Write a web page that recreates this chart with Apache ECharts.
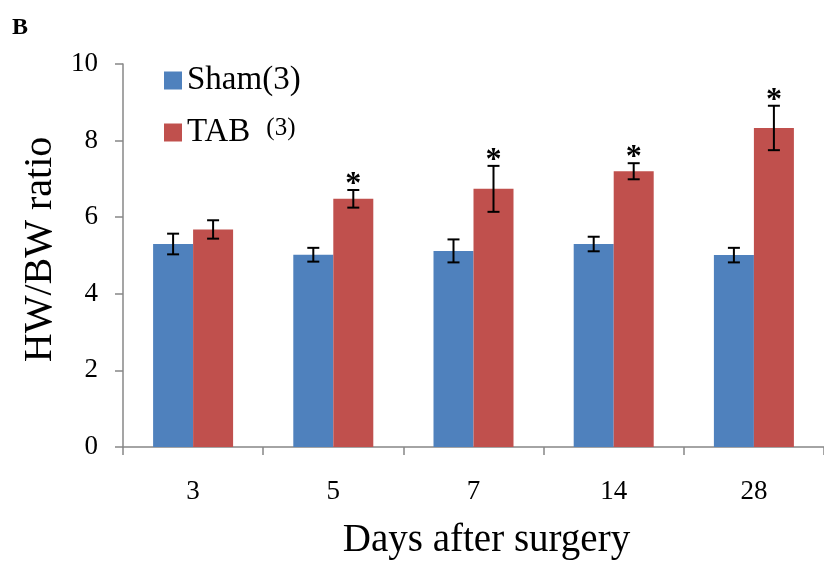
<!DOCTYPE html>
<html><head><meta charset="utf-8">
<script src="https://cdn.jsdelivr.net/npm/echarts@6/dist/echarts.min.js"></script>
<style>html,body{margin:0;padding:0;background:#fff}#c{width:824px;height:565px}</style>
</head><body><div id="c"></div>
<script>
const categories = ['3', '5', '7', '14', '28'];
const shamValues = [5.30, 5.02, 5.12, 5.30, 5.01];
const shamErrors = [0.27, 0.18, 0.30, 0.19, 0.19];
const tabValues = [5.68, 6.48, 6.74, 7.20, 8.33];
const tabErrors = [0.24, 0.23, 0.60, 0.21, 0.58];
const tabSignificant = [false, true, true, true, true];
const yTicks = [0, 2, 4, 6, 8, 10];
const seriesNames = ['Sham(3)', 'TAB (3)'];

const FONT = 'Liberation Serif';
const BAR_W = 40;
const chart = echarts.init(document.getElementById('c'));

function errorSeries(name, values, errors, sign, stars) {
  return {
    type: 'custom', name: name, z: 5, silent: true,
    data: values.map((v, i) => [i, v, errors[i], stars ? (stars[i] ? 1 : 0) : 0]),
    renderItem: function (params, api) {
      const i = api.value(0), v = api.value(1), e = api.value(2);
      const hi = api.coord([i, v + e]);
      const lo = api.coord([i, v - e]);
      const x = hi[0] + sign * BAR_W / 2;
      const cap = 6;
      const st = { stroke: '#000', lineWidth: 2 };
      const children = [
        { type: 'line', shape: { x1: x, y1: hi[1], x2: x, y2: lo[1] }, style: st },
        { type: 'line', shape: { x1: x - cap, y1: hi[1], x2: x + cap, y2: hi[1] }, style: st },
        { type: 'line', shape: { x1: x - cap, y1: lo[1], x2: x + cap, y2: lo[1] }, style: st }
      ];
      if (api.value(3)) {
        children.push({ type: 'text', style: { text: '*', x: x, y: hi[1] - 21, align: 'center', verticalAlign: 'top', fontFamily: FONT, fontSize: 32, fontWeight: 'bold', fill: '#000' } });
      }
      return { type: 'group', children: children };
    }
  };
}

chart.setOption({
  animation: false,
  backgroundColor: '#fff',
  textStyle: { fontFamily: FONT },
  title: { text: 'B', left: 7, top: 11, textStyle: { fontFamily: FONT, fontWeight: 'bold', fontSize: 24, color: '#000' } },
  legend: {
    orient: 'vertical', left: 159, top: 59, itemWidth: 18, itemHeight: 18, itemGap: 19,
    icon: 'rect',
    data: seriesNames,
    formatter: function (n) { return n === seriesNames[1] ? '{n|TAB}{s|(3)}' : '{n|' + n + '}'; },
    textStyle: {
      fontFamily: FONT, fontSize: 33, color: '#000',
      rich: {
        n: { fontFamily: FONT, fontSize: 33, color: '#000', lineHeight: 33 },
        s: { fontFamily: FONT, fontSize: 25, color: '#000', padding: [0, 0, 0, 16], lineHeight: 25, verticalAlign: 'top' }
      }
    }
  },
  grid: { left: 123, top: 64, bottom: 112, width: 707.5, containLabel: false },
  xAxis: {
    type: 'category', data: categories,
    name: 'Days after surgery', nameLocation: 'middle', nameGap: 74,
    nameTextStyle: { fontFamily: FONT, fontSize: 39, color: '#000', padding: [0, 0, 0, 26] },
    axisLine: { lineStyle: { color: '#878787', width: 1.5 } },
    axisTick: { show: true, length: 8, lineStyle: { color: '#878787', width: 1.5 } },
    axisLabel: { fontFamily: FONT, fontSize: 27, color: '#000', margin: 31 }
  },
  yAxis: {
    type: 'value', min: yTicks[0], max: yTicks[yTicks.length - 1], interval: 2,
    name: 'HW/BW ratio', nameLocation: 'middle', nameGap: 53,
    nameTextStyle: { fontFamily: FONT, fontSize: 40, color: '#000', padding: [0, 0, 0, 12] },
    axisLine: { show: true, lineStyle: { color: '#878787', width: 1.5 } },
    axisTick: { show: true, length: 8, lineStyle: { color: '#878787', width: 1.5 } },
    splitLine: { show: false },
    axisLabel: { fontFamily: FONT, fontSize: 27, color: '#000', margin: 25 }
  },
  series: [
    { name: seriesNames[0], type: 'bar', data: shamValues, barWidth: BAR_W, barGap: '0%', itemStyle: { color: '#4F81BD' } },
    { name: seriesNames[1], type: 'bar', data: tabValues, barWidth: BAR_W, barGap: '0%', itemStyle: { color: '#C0504D' } },
    errorSeries('shamErr', shamValues, shamErrors, -1, null),
    errorSeries('tabErr', tabValues, tabErrors, 1, tabSignificant)
  ]
});
</script></body></html>
